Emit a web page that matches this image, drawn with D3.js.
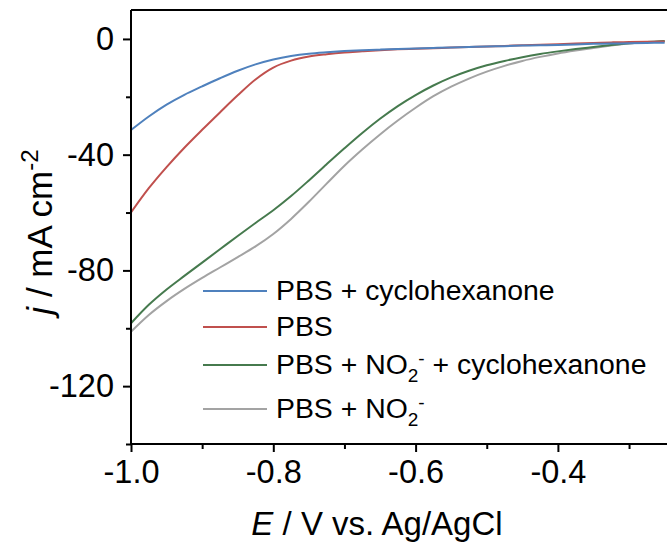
<!DOCTYPE html>
<html><head><meta charset="utf-8">
<script src="https://cdn.jsdelivr.net/npm/d3@7"></script>
<style>
html,body{margin:0;padding:0;background:#fff;}
svg{display:block;font-family:"Liberation Sans",Arial,sans-serif;}
</style></head>
<body><svg id="c" width="667" height="543"></svg>
<script>
const potential = [-1.000,-0.975,-0.950,-0.925,-0.900,-0.875,-0.850,-0.825,-0.800,-0.775,-0.750,-0.725,-0.700,-0.675,-0.650,-0.625,-0.600,-0.575,-0.550,-0.525,-0.500,-0.475,-0.450,-0.425,-0.400,-0.375,-0.350,-0.325,-0.300,-0.275,-0.250];
const pbsCyclohexanone = [-31.5,-26.8,-22.7,-19.3,-16.4,-13.6,-11.0,-8.8,-7.1,-5.9,-5.1,-4.6,-4.2,-3.9,-3.7,-3.5,-3.3,-3.1,-3.0,-2.8,-2.6,-2.5,-2.3,-2.2,-2.1,-1.9,-1.7,-1.6,-1.5,-1.4,-1.3];
const pbs = [-60.0,-51.6,-44.3,-37.6,-31.4,-25.4,-19.5,-14.0,-9.9,-7.5,-6.1,-5.3,-4.7,-4.3,-3.9,-3.6,-3.4,-3.2,-3.0,-2.8,-2.6,-2.4,-2.2,-2.0,-1.8,-1.6,-1.4,-1.2,-1.1,-1.0,-0.9];
const pbsNitriteCyclohexanone = [-98.3,-91.9,-86.6,-81.9,-77.3,-72.7,-68.1,-63.6,-59.2,-54.3,-48.9,-43.3,-37.8,-32.5,-27.6,-23.2,-19.4,-16.1,-13.3,-11.0,-9.1,-7.6,-6.3,-5.2,-4.3,-3.5,-2.8,-2.1,-1.5,-1.1,-0.7];
const pbsNitrite = [-101.2,-95.4,-90.6,-86.4,-82.6,-79.0,-75.4,-71.7,-67.4,-62.2,-56.3,-50.0,-43.8,-38.2,-33.0,-28.2,-23.8,-19.8,-16.5,-13.7,-11.3,-9.3,-7.6,-6.2,-5.0,-4.0,-3.1,-2.3,-1.6,-1.1,-0.7];
const xTicks = [-1.0,-0.8,-0.6,-0.4];
const xMinorTicks = [-0.9,-0.7,-0.5,-0.3];
const yTicks = [0,-40,-80,-120];
const yMinorTicks = [-20,-60,-100,-140];

const series = [
  {key:"pbsCyc", values:pbsCyclohexanone, color:"#4f81bd"},
  {key:"pbs", values:pbs, color:"#c0504d"},
  {key:"no2Cyc", values:pbsNitriteCyclohexanone, color:"#467a4e"},
  {key:"no2", values:pbsNitrite, color:"#a3a3a3"}
];

const svg = d3.select("#c");
const x = d3.scaleLinear().domain([-1.0,-0.2]).range([131, 131+0.8*711.5]);
const y = d3.scaleLinear().domain([-140,10]).range([444,10]);

const clip = svg.append("defs").append("clipPath").attr("id","pc");
clip.append("rect").attr("x",131).attr("y",10).attr("width",600).attr("height",434);

const line = d3.line().x((d,i)=>x(potential[i])).y(d=>y(d)).curve(d3.curveCatmullRom.alpha(0.5));
const plot = svg.append("g").attr("clip-path","url(#pc)");
[series[3],series[2],series[1],series[0]].forEach(s=>{
  plot.append("path").datum(s.values).attr("d",line)
    .attr("fill","none").attr("stroke",s.color).attr("stroke-width",2);
});

svg.append("line").attr("x1",131).attr("x2",667).attr("y1",y(10)).attr("y2",y(10)).attr("stroke","#000").attr("stroke-width",2);

const xAxis = svg.append("g").attr("transform","translate(0,444)")
  .call(d3.axisBottom(x).tickValues(xTicks).tickFormat(d3.format(".1f")).tickSize(8).tickPadding(8));
svg.append("g").attr("transform","translate(0,444)")
  .call(d3.axisBottom(x).tickValues(xMinorTicks).tickFormat("").tickSize(5))
  .select(".domain").remove();
const yAxis = svg.append("g").attr("transform","translate(131,0)")
  .call(d3.axisLeft(y).tickValues(yTicks).tickFormat(d3.format("d")).tickSize(8).tickPadding(9));
svg.append("g").attr("transform","translate(131,0)")
  .call(d3.axisLeft(y).tickValues(yMinorTicks).tickFormat("").tickSize(5))
  .select(".domain").remove();

svg.selectAll(".domain").attr("stroke","#000").attr("stroke-width",2);
svg.selectAll(".tick line").attr("stroke","#000").attr("stroke-width",2);
svg.selectAll(".tick text").attr("font-size",32.5).attr("font-family","'Liberation Sans',Arial,sans-serif").attr("fill","#000");
xAxis.select(".domain").attr("d","M131,0H667");
yAxis.select(".domain").attr("d","M0,"+y(-140)+"V"+y(10));
svg.selectAll(".tick text").text(function(){return d3.select(this).text().replace("−","-");});

const xt = svg.append("text").attr("x",377).attr("y",535).attr("text-anchor","middle").attr("font-size",33).attr("fill","#000");
xt.append("tspan").attr("font-style","italic").text("E");
xt.append("tspan").text(" / V vs. Ag/AgCl");

const yt = svg.append("text").attr("transform","translate(52,232) rotate(-90)").attr("text-anchor","middle").attr("font-size",35).attr("fill","#000");
yt.append("tspan").attr("font-style","italic").text("j");
yt.append("tspan").text(" / mA cm");
yt.append("tspan").attr("font-size",24).attr("dy",-14).text("-2");

const legendRows = [
  {color:"#4f81bd", y:291, parts:[["PBS + cyclohexanone"]]},
  {color:"#c0504d", y:327, parts:[["PBS"]]},
  {color:"#467a4e", y:365, parts:[["PBS + NO"],["2","sub"],["-","sup"],[" + cyclohexanone"]]},
  {color:"#a3a3a3", y:409, parts:[["PBS + NO"],["2","sub"],["-","sup"]]}
];
const lg = svg.append("g");
legendRows.forEach(r=>{
  lg.append("line").attr("x1",203).attr("x2",267).attr("y1",r.y).attr("y2",r.y).attr("stroke",r.color).attr("stroke-width",2);
  const t = lg.append("text").attr("x",276).attr("y",r.y+8.5).attr("font-size",28.4).attr("fill","#000");
  let shift = 0;
  r.parts.forEach(p=>{
    const ts = t.append("tspan").text(p[0]);
    if(p[1]==="sub"){ ts.attr("font-size",19).attr("dy",8-shift); shift=8; }
    else if(p[1]==="sup"){ ts.attr("font-size",19).attr("dy",-17); shift=-9; }
    else { if(shift!==0){ ts.attr("dy",-shift); } shift=0; }
  });
});
</script></body></html>
